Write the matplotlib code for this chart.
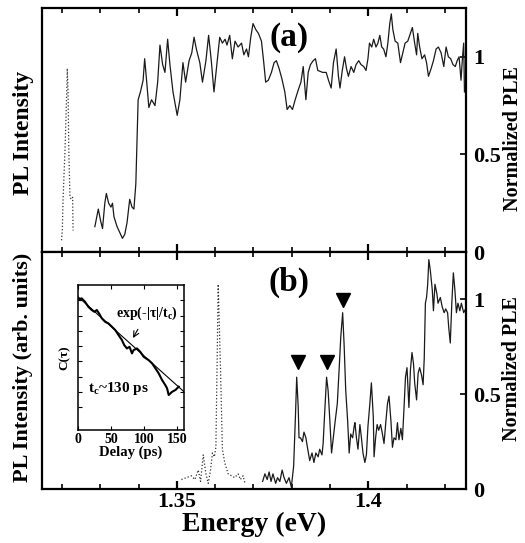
import matplotlib
matplotlib.use("Agg")
import matplotlib.pyplot as plt
from matplotlib.ticker import MultipleLocator, FixedLocator, NullFormatter, FuncFormatter
import numpy as np

plt.rcParams['font.family'] = ['Liberation Serif', 'DejaVu Serif']
plt.rcParams['font.weight'] = 'bold'
plt.rcParams['axes.labelweight'] = 'bold'
plt.rcParams['mathtext.fontset'] = 'custom'
plt.rcParams['mathtext.rm'] = 'Liberation Serif:bold'
plt.rcParams['mathtext.it'] = 'Liberation Serif:bold'

# ---- panel (a): PL (dotted) and PLE (solid) ----
pl_a_e = [1.3199, 1.3201, 1.3203, 1.3208, 1.3212, 1.3214, 1.3216, 1.3218, 1.3221, 1.3225, 1.3228, 1.3229]
pl_a_v = [0.06, 0.11, 0.27, 0.52, 0.78, 0.94, 0.82, 0.52, 0.28, 0.27, 0.28, 0.11]

ple_a_e = [1.3286, 1.3295, 1.3301, 1.3306, 1.3312, 1.3316, 1.3322, 1.3328, 1.3332, 1.3336,
           1.3344, 1.3351, 1.3358, 1.3364, 1.3370, 1.3377, 1.3383, 1.3388, 1.3393, 1.3399,
           1.3405, 1.3412, 1.3416, 1.3421, 1.3427, 1.3434, 1.3443, 1.3450, 1.3456, 1.3463,
           1.3469, 1.3476, 1.3482, 1.3490, 1.3501, 1.3508, 1.3516, 1.3523, 1.3532, 1.3539,
           1.3545, 1.3551, 1.3560, 1.3567, 1.3576, 1.3583, 1.3590, 1.3597, 1.3605, 1.3612,
           1.3619, 1.3626, 1.3631, 1.3638, 1.3645, 1.3652, 1.3660, 1.3669, 1.3675, 1.3682,
           1.3687, 1.3693, 1.3699, 1.3706, 1.3713, 1.3721, 1.3727, 1.3732, 1.3739, 1.3747,
           1.3754, 1.3760, 1.3767, 1.3774, 1.3782, 1.3788, 1.3795, 1.3802, 1.3809, 1.3817,
           1.3824, 1.3830, 1.3837, 1.3843, 1.3849, 1.3856, 1.3862, 1.3868, 1.3881, 1.3890,
           1.3896, 1.3903, 1.3909, 1.3916, 1.3922, 1.3926, 1.3932, 1.3938, 1.3943, 1.3948,
           1.3955, 1.3962, 1.3968, 1.3975, 1.3981, 1.3988, 1.3994, 1.3999, 1.4003, 1.4009,
           1.4014, 1.4020, 1.4025, 1.4030, 1.4035, 1.4040, 1.4046, 1.4051, 1.4056, 1.4060,
           1.4064, 1.4070, 1.4077, 1.4084, 1.4090, 1.4096, 1.4103, 1.4110, 1.4115, 1.4121,
           1.4126, 1.4129, 1.4134, 1.4140, 1.4147, 1.4152, 1.4157, 1.4164, 1.4170, 1.4177,
           1.4183, 1.4190, 1.4197, 1.4203, 1.4209, 1.4215, 1.4221, 1.4227, 1.4232, 1.4237,
           1.4242, 1.4246, 1.4249, 1.4251]
ple_a_v = [0.13, 0.22, 0.16, 0.12, 0.25, 0.30, 0.25, 0.23, 0.25, 0.18,
           0.13, 0.10, 0.07, 0.09, 0.15, 0.27, 0.23, 0.22, 0.35, 0.78,
           0.82, 0.88, 0.99, 0.88, 0.74, 0.78, 0.75, 0.87, 1.06, 0.96,
           0.92, 1.09, 0.96, 0.82, 0.70, 0.78, 0.97, 0.87, 0.98, 1.02,
           1.10, 1.04, 0.97, 0.87, 0.98, 1.11, 0.98, 0.82, 0.97, 1.10,
           1.07, 1.09, 1.06, 1.11, 0.99, 1.08, 1.05, 1.07, 1.01, 1.04,
           1.00, 1.10, 1.17, 1.14, 1.12, 1.08, 0.97, 0.87, 0.88, 0.92,
           0.97, 0.98, 0.94, 0.89, 0.82, 0.73, 0.75, 0.73, 0.78, 0.83,
           0.87, 0.95, 0.78, 0.92, 0.96, 0.98, 0.99, 0.93, 0.92, 0.92,
           0.88, 0.84, 0.97, 1.04, 0.90, 0.84, 0.93, 1.00, 0.94, 0.90,
           0.95, 0.92, 0.96, 0.98, 0.96, 0.95, 0.93, 0.99, 1.07, 1.05,
           1.09, 1.05, 1.07, 1.11, 1.05, 1.04, 1.00, 1.07, 1.17, 1.22,
           1.14, 1.08, 1.07, 0.97, 1.02, 1.07, 1.08, 1.12, 1.15, 1.07,
           1.01, 1.12, 1.05, 0.99, 1.01, 0.97, 0.90, 0.94, 0.98, 1.04,
           1.05, 1.02, 0.95, 1.05, 1.00, 0.99, 0.96, 0.95, 0.98, 1.00,
           0.88, 1.00, 1.07, 0.82]

# ---- panel (b) ----
pl_b_e = [1.3512, 1.3525, 1.3538, 1.3547, 1.3556, 1.3562, 1.3569, 1.3576, 1.3582, 1.3588,
          1.3593, 1.3598, 1.3602, 1.3605, 1.3608, 1.3614, 1.3619, 1.3625, 1.3634, 1.3643,
          1.3651, 1.3660, 1.3666, 1.3673, 1.3678]
pl_b_v = [0.05, 0.06, 0.07, 0.05, 0.10, 0.04, 0.18, 0.08, 0.03, 0.10,
          0.19, 0.17, 0.22, 0.64, 1.08, 0.64, 0.21, 0.14, 0.08, 0.07,
          0.06, 0.08, 0.05, 0.07, 0.03]

ple_b_e = [1.3724, 1.3730, 1.3736, 1.3741, 1.3746, 1.3751, 1.3758, 1.3763, 1.3769, 1.3775,
           1.3780, 1.3786, 1.3793, 1.3799, 1.3805, 1.3810, 1.3813, 1.3817, 1.3819, 1.3823,
           1.3828, 1.3832, 1.3837, 1.3841, 1.3847, 1.3853, 1.3858, 1.3863, 1.3869, 1.3873,
           1.3879, 1.3882, 1.3886, 1.3891, 1.3895, 1.3899, 1.3904, 1.3908, 1.3913, 1.3919,
           1.3924, 1.3928, 1.3933, 1.3937, 1.3941, 1.3946, 1.3950, 1.3954, 1.3959, 1.3963,
           1.3965, 1.3969, 1.3973, 1.3978, 1.3982, 1.3986, 1.3991, 1.3995, 1.3999, 1.4004,
           1.4008, 1.4013, 1.4015, 1.4019, 1.4023, 1.4027, 1.4032, 1.4036, 1.4041, 1.4046,
           1.4050, 1.4054, 1.4059, 1.4063, 1.4067, 1.4072, 1.4076, 1.4080, 1.4085, 1.4089,
           1.4093, 1.4097, 1.4101, 1.4106, 1.4110, 1.4114, 1.4118, 1.4121, 1.4126, 1.4130,
           1.4134, 1.4139, 1.4143, 1.4146, 1.4149, 1.4152, 1.4155, 1.4158, 1.4162, 1.4167,
           1.4170, 1.4174, 1.4179, 1.4182, 1.4188, 1.4193, 1.4198, 1.4202, 1.4207, 1.4210,
           1.4214, 1.4218, 1.4222, 1.4226, 1.4230, 1.4234, 1.4239, 1.4243, 1.4249, 1.4254]
ple_b_v = [0.04, 0.08, 0.05, 0.09, 0.04, 0.08, 0.03, 0.06, 0.04, 0.10,
           0.06, 0.03, 0.06, 0.01, 0.12, 0.40, 0.59, 0.43, 0.27, 0.27,
           0.25, 0.30, 0.27, 0.22, 0.15, 0.19, 0.14, 0.19, 0.17, 0.21,
           0.18, 0.24, 0.40, 0.59, 0.52, 0.38, 0.19, 0.26, 0.35, 0.45,
           0.64, 0.80, 0.93, 0.75, 0.52, 0.36, 0.19, 0.29, 0.27, 0.33,
           0.35, 0.27, 0.21, 0.34, 0.27, 0.19, 0.14, 0.18, 0.33, 0.45,
           0.56, 0.38, 0.17, 0.27, 0.34, 0.31, 0.34, 0.30, 0.24, 0.36,
           0.45, 0.49, 0.36, 0.22, 0.27, 0.26, 0.35, 0.26, 0.32, 0.26,
           0.42, 0.59, 0.64, 0.43, 0.63, 0.72, 0.66, 0.56, 0.47, 0.61,
           0.64, 0.60, 0.55, 0.69, 0.98, 1.01, 1.08, 1.21, 1.15, 1.05,
           0.94, 1.08, 1.03, 0.98, 1.01, 0.96, 0.93, 0.95, 0.93, 0.85,
           0.77, 0.98, 1.14, 1.05, 0.93, 0.98, 0.94, 0.98, 0.93, 0.95]

peak_e = [1.3817, 1.3892, 1.3933]
peak_v = [0.67, 0.67, 0.995]

# ---- inset: correlation C(tau) ----
delay = [0.5, 5.6, 10.6, 15.6, 20.8, 24.7, 28.3, 32.3, 35.9, 40.9,
         45.9, 51.1, 56.1, 61.1, 66.2, 69.7, 73.8, 77.7, 81.4, 83.8,
         88.9, 93.9, 98.9, 106.5, 111.7, 116.7, 121.7, 126.8, 131.8, 134.4,
         136.8, 139.4, 142.0, 147.0, 152.0]
corr = [0.967, 0.979, 0.937, 0.878, 0.842, 0.823, 0.842, 0.799, 0.756, 0.723,
        0.708, 0.678, 0.650, 0.609, 0.571, 0.535, 0.512, 0.523, 0.480, 0.501,
        0.512, 0.490, 0.460, 0.440, 0.422, 0.396, 0.371, 0.340, 0.318, 0.305,
        0.280, 0.286, 0.292, 0.299, 0.312]
fit_t = [0, 160]
fit_c = [1.0, 0.292]

fig = plt.figure(figsize=(5.25, 5.43), dpi=100)
ax1 = fig.add_axes([0.08, 0.5359, 0.8076, 0.4494])
ax2 = fig.add_axes([0.08, 0.0994, 0.8076, 0.4365])

for ax in (ax1, ax2):
    ax.set_xlim(1.3148, 1.4255)
    ax.set_ylim(0, 1.25)
    for s in ax.spines.values():
        s.set_linewidth(1.6)
    ax.xaxis.set_major_locator(FixedLocator([1.35, 1.40]))
    ax.xaxis.set_minor_locator(MultipleLocator(0.01))
    ax.xaxis.set_major_formatter(FuncFormatter(lambda v, p: '%g' % round(v, 3)))
    ax.yaxis.set_ticks_position('right')
    ax.set_yticks([0, 0.5, 1])
    ax.set_yticklabels(['0', '0.5', '1'])
    ax.tick_params(axis='both', which='both', direction='in', top=True, bottom=True)
    ax.tick_params(axis='x', which='major', length=6, width=1.6, labelsize=16, pad=2)
    ax.tick_params(axis='x', which='minor', length=3.5, width=1.2)
    ax.tick_params(axis='y', which='major', length=4, width=1.2, labelsize=16, pad=5,
                   left=False, right=True)

ax1.tick_params(axis='x', labelbottom=False)

ax1.plot(pl_a_e, pl_a_v, ':', color='#333333', lw=0.9)
ax1.plot(ple_a_e, ple_a_v, '-', color='#1a1a1a', lw=0.9)
ax2.plot(pl_b_e, pl_b_v, ':', color='#333333', lw=0.9)
ax2.plot(ple_b_e, ple_b_v, '-', color='#1a1a1a', lw=0.9)
ax2.plot(peak_e, peak_v, 'v', color='black', ms=10, ls='none')

ax1.text(0.5825, 0.88, '(a)', transform=ax1.transAxes, fontsize=24, ha='center', va='center')
ax2.text(0.5825, 0.87, '(b)', transform=ax2.transAxes, fontsize=24, ha='center', va='center')

fig.text(0.484, 0.034, 'Energy (eV)', fontsize=20, ha='center', va='center')
fig.text(0.044, 0.755, 'PL Intensity', fontsize=17, rotation=90, ha='center', va='center')
fig.text(0.044, 0.324, 'PL Intensity (arb. units)', fontsize=16, rotation=90, ha='center', va='center')
fig.text(0.978, 0.744, 'Normalized PLE', fontsize=14.5, rotation=90, ha='center', va='center')
fig.text(0.976, 0.322, 'Normalized PLE', fontsize=14.5, rotation=90, ha='center', va='center')

# inset
axi = fig.add_axes([0.1486, 0.2081, 0.202, 0.267])
axi.set_yscale('log')
axi.plot(delay, corr, '-', color='black', lw=1.5)
axi.plot(fit_t, fit_c, '-', color='black', lw=0.8)
axi.set_xlim(0, 160)
axi.set_ylim(0.178, 1.164)
for s in axi.spines.values():
    s.set_linewidth(1.1)
axi.set_xticks([0, 50, 100, 150])
axi.yaxis.set_major_locator(FixedLocator(list(1.164 * 1.219 ** -np.arange(1, 9))))
axi.yaxis.set_minor_locator(FixedLocator([]))
axi.yaxis.set_major_formatter(NullFormatter())
axi.tick_params(direction='in', top=True, right=True, length=3, width=0.8,
                labelsize=10, pad=2)
axi.set_xlabel('Delay (ps)', fontsize=10.5, labelpad=0)
axi.set_ylabel('C(τ)', fontsize=9.5, labelpad=3)
axi.annotate('exp(-|τ|/t$_c$)', xy=(83, 0.586), xytext=(104, 0.81),
             fontsize=10, ha='center', va='center',
             arrowprops=dict(arrowstyle='->', lw=0.8, color='black', shrinkA=4, shrinkB=0))
axi.text(61, 0.306, 't$_c$~130 ps', fontsize=11, ha='center', va='center')

fig.savefig('out.png', dpi=100)
